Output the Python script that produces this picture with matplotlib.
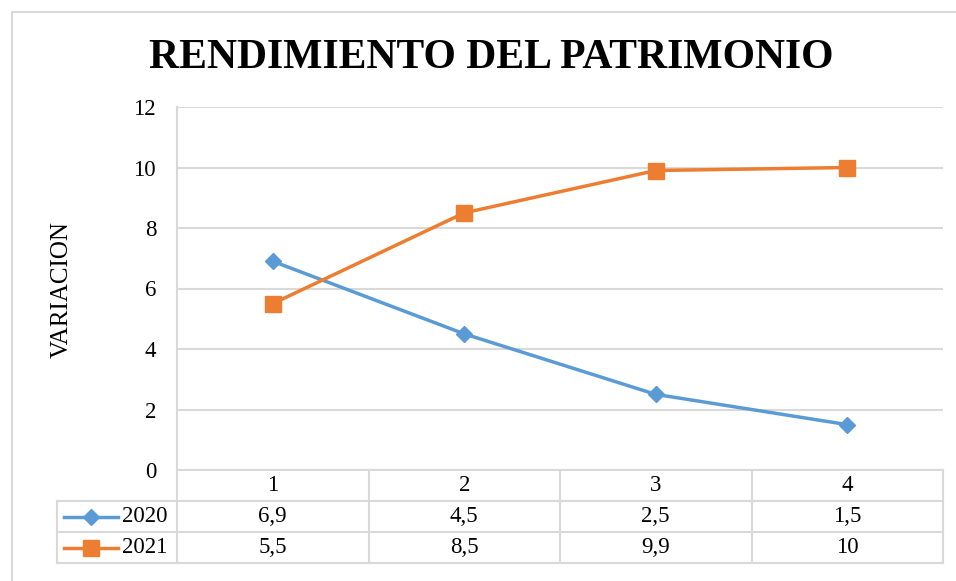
import matplotlib.pyplot as plt
from matplotlib.patches import Rectangle

categories = ["1", "2", "3", "4"]
series_names = ["2020", "2021"]
values_2020 = [6.9, 4.5, 2.5, 1.5]
values_2021 = [5.5, 8.5, 9.9, 10]
y_ticks = [0, 2, 4, 6, 8, 10, 12]

blue = "#5B9BD5"
orange = "#ED7D31"
grid = "#D9D9D9"
serif = "Liberation Serif"
fs = 16.5

W, H = 956, 581
fig = plt.figure(figsize=(W / 100, H / 100), dpi=100)
plt.rcParams['font.family'] = serif

# outer chart frame
fig.patches.append(Rectangle((12 / W, -0.01), 1.0, (H - 12) / H + 0.01,
                             transform=fig.transFigure, fill=False,
                             edgecolor=grid, linewidth=1.5))

left, right, top, bottom = 177, 943, 107, 470
ax = fig.add_axes([left / W, (H - bottom) / H, (right - left) / W, (bottom - top) / H])

x = list(range(1, len(categories) + 1))
ax.plot(x, values_2020, color=blue, linewidth=2.5, marker="D", markersize=8,
        label=series_names[0], zorder=3)
ax.plot(x, values_2021, color=orange, linewidth=2.5, marker="s", markersize=11,
        label=series_names[1], zorder=3)

ax.set_xlim(0.5, len(categories) + 0.5)
ax.set_ylim(0, 12)
ax.set_yticks(y_ticks)
ax.set_yticklabels([str(t) for t in y_ticks], fontsize=fs, family=serif)
ax.set_xticks([])
ax.tick_params(axis="y", length=0, pad=15)
for s in ["top", "right", "bottom"]:
    ax.spines[s].set_visible(False)
ax.spines["left"].set_color(grid)
ax.spines["left"].set_linewidth(1.5)
ax.grid(axis="y", color=grid, linewidth=1.5)
ax.set_axisbelow(True)

fig.text(62 / W, 1 - 290 / H, "VARIACION", rotation=90, ha="center", va="center",
         fontsize=18, family=serif)
fig.text(491 / W, 1 - 68 / H, "RENDIMIENTO DEL PATRIMONIO", ha="center", va="baseline",
         fontsize=30, fontweight="bold", family=serif)

# data table under the axis
def fy(py):
    return (bottom - py) / (bottom - top) * 12

col_w = (right - left) / len(categories)
def fx(px):
    return 0.5 + (px - left) / col_w

rows = [470, 501, 532, 563]
lkw = dict(color=grid, linewidth=1.5, clip_on=False)
ax.plot([fx(left), fx(right)], [fy(rows[0])] * 2, **lkw)
for r in rows[1:]:
    ax.plot([fx(57), fx(right)], [fy(r)] * 2, **lkw)
for i in range(len(categories) + 1):
    ax.plot([0.5 + i] * 2, [fy(rows[0]), fy(rows[-1])], **lkw)
ax.plot([fx(57)] * 2, [fy(rows[1]), fy(rows[-1])], **lkw)

tkw = dict(ha="center", va="center", fontsize=fs, family=serif, clip_on=False)
for i, c in enumerate(categories):
    ax.text(x[i], fy((rows[0] + rows[1]) / 2), c, **tkw)

def fmt(v):
    return ("%g" % v).replace(".", ",")

for r, (vals, name, col, mk, ms) in enumerate([
        (values_2020, series_names[0], blue, "D", 8),
        (values_2021, series_names[1], orange, "s", 11)]):
    yc = fy((rows[r + 1] + rows[r + 2]) / 2)
    for i, v in enumerate(vals):
        ax.text(x[i], yc, fmt(v), **tkw)
    ax.plot([fx(64), fx(118)], [yc, yc], color=col, linewidth=2.5, clip_on=False)
    ax.plot([fx(91)], [yc], color=col, marker=mk, markersize=ms, clip_on=False)
    ax.text(fx(122), yc, name, ha="left", va="center", fontsize=fs, family=serif,
            clip_on=False)

fig.savefig("out.png", dpi=100)
